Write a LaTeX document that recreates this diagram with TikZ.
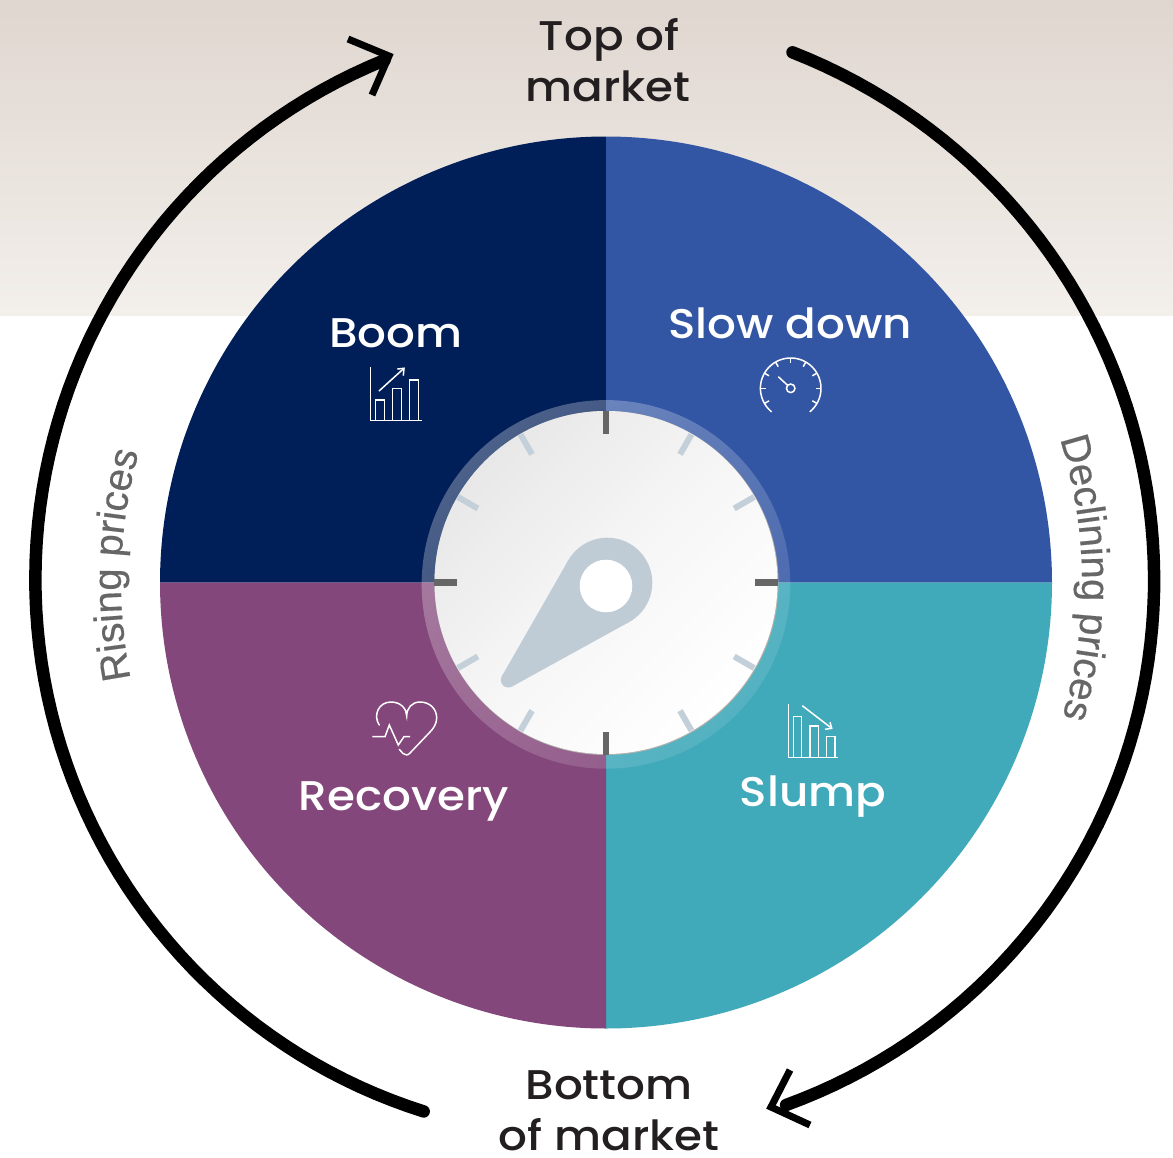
\documentclass[tikz,border=0pt]{standalone}
\usepackage{fontspec}
\setmainfont[FakeStretch=1.09]{Poppins Medium}
\newfontfamily\arcfont[FakeBold=0.4]{Liberation Sans}
\usetikzlibrary{decorations.text,fadings}
\definecolor{boomcol}{HTML}{001E58}
\definecolor{slowcol}{HTML}{3356A4}
\definecolor{reccol}{HTML}{84477B}
\definecolor{slumpcol}{HTML}{40A9BA}
\definecolor{inkcol}{HTML}{231F20}
\definecolor{arcgray}{HTML}{666666}
\definecolor{tickdark}{HTML}{666666}
\definecolor{ticklight}{HTML}{C3D0D9}
\definecolor{pointercol}{HTML}{BFCBD5}
\definecolor{papertop}{HTML}{DFD6CF}
\definecolor{paperbot}{HTML}{F3EFEB}
\definecolor{dialtop}{HTML}{E8E8E8}
\definecolor{dialmid}{HTML}{F6F6F6}
\definecolor{dialedge}{HTML}{B5B0AC}
\tikzfading[name=ringfade,top color=transparent!70,bottom color=transparent!90]
\tikzset{
  x=1pt,y=-1pt,
  sectorlabel/.style={text=white,anchor=base,inner sep=0pt,font=\fontsize{41.5}{48}\selectfont},
  marketlabel/.style={text=inkcol,anchor=base,inner sep=0pt,font=\fontsize{41.5}{48}\selectfont},
  icon/.style={draw=white,line width=1.5pt,line join=miter},
  bigarc/.style={line width=12.5pt,line cap=round,black},
  barb/.style={line width=7pt,line join=miter,line cap=butt,black},
  ticka/.style={line width=6.7pt,tickdark},
  tickb/.style={line width=6pt,ticklight},
}
\begin{document}
\begin{tikzpicture}
\useasboundingbox (0,0) rectangle (1173,1157);
\fill[white] (0,0) rectangle (1173,1157);
% paper band
\shade[top color=papertop,bottom color=paperbot] (0,0) rectangle (1173,315);
% sectors
\fill[boomcol] (606,582.5) -- plot[domain=180:270,samples=91] ({606+446*cos(\x)},{582.5+446*sin(\x)}) -- cycle;
\fill[slowcol] (606,582.5) -- plot[domain=270:360,samples=91] ({606+446*cos(\x)},{582.5+446*sin(\x)}) -- cycle;
\fill[slumpcol] (606,582.5) -- plot[domain=0:90,samples=91] ({606+446*cos(\x)},{582.5+446*sin(\x)}) -- cycle;
\fill[reccol] (606,582.5) -- plot[domain=90:180,samples=91] ({606+446*cos(\x)},{582.5+446*sin(\x)}) -- cycle;
% dial
\fill[white,path fading=ringfade,fading angle=45] (606,582.5) circle[radius=185pt];
\fill[dialedge] (606.5,583) circle[radius=172pt];
\shade[top color=dialtop,bottom color=white,middle color=dialmid,shading angle=45] (606,582.5) circle[radius=171.5pt];
% ticks
\foreach \a in {30,60,120,150,210,240,300,330}
  \draw[tickb] ({606+171*cos(\a)},{582.5+171*sin(\a)}) -- ({606+148*cos(\a)},{582.5+148*sin(\a)});
\foreach \a in {0,90,180,270}
  \draw[ticka] ({606+172*cos(\a)},{582.5+172*sin(\a)}) -- ({606+149*cos(\a)},{582.5+149*sin(\a)});
% pointer
\fill[pointercol] (607.3,582.7) circle[radius=45pt];
\fill[pointercol] (508.3,680) circle[radius=7.5pt];
\fill[pointercol] (568.3,560.3) -- (501.8,676.3) -- (511.9,686.6) -- (629,622.1) -- cycle;
\fill[white] (606,586) circle[radius=26.3pt];
% boom icon
\draw[icon] (370.7,367.3) -- (370.7,420.7) -- (421.5,420.7);
\draw[icon] (375.7,420.7) -- (375.7,400) -- (384.3,400) -- (384.3,420.7);
\draw[icon] (392.7,420.7) -- (392.7,388.7) -- (401.7,388.7) -- (401.7,420.7);
\draw[icon] (409.3,420.7) -- (409.3,380) -- (418.3,380) -- (418.3,420.7);
\draw[icon] (379,391) -- (404,368.3);
\draw[icon] (397.3,369) -- (404,368.3) -- (403.3,375.7);
% gauge icon
\draw[icon] plot[domain=129:411,samples=60] ({790.7+30.3*cos(\x)},{388.3+30.3*sin(\x)});
\foreach \a in {150,180,210,240,270,300,330,360,390}
  \draw[icon] ({790.7+30.3*cos(\a)},{388.3+30.3*sin(\a)}) -- ({790.7+25*cos(\a)},{388.3+25*sin(\a)});
\draw[icon] (790.7,388.3) circle[radius=4.3pt];
\draw[icon] (787.5,385.2) -- (778.3,376.7);
% heart icon
\draw[icon,line cap=round] (379.3,725) .. controls (373,716) and (378,702) .. (391,702) .. controls (401,702) and (406.7,709) .. (406.7,716) .. controls (406.7,708) and (412,702) .. (420,702) .. controls (430,702) and (436.7,709) .. (436.7,718) .. controls (436.7,724) and (433,729) .. (430,732) -- (410,753) .. controls (408,755.5) and (405,755.5) .. (403,753.5) -- (399.3,749.3);
\draw[icon] (372.3,736.7) -- (385,736.7) -- (389.3,725) -- (398.3,745) -- (404,736.7) -- (410,736.7);
% slump icon
\draw[icon] (788.3,704.3) -- (788.3,757.7) -- (838.3,757.7);
\draw[icon] (793.3,757.7) -- (793.3,716.7) -- (801.7,716.7) -- (801.7,757.7);
\draw[icon] (810,757.7) -- (810,726) -- (818.3,726) -- (818.3,757.7);
\draw[icon] (826.7,757.7) -- (826.7,736.7) -- (835,736.7) -- (835,757.7);
\draw[icon] (802.3,705.7) -- (831.7,728.3);
\draw[icon] (825,729.3) -- (831.7,728.3) -- (830,722.3);
% sector labels
\node[sectorlabel] (boom) at (396,347) {Boom};
\node[sectorlabel] (slow) at (790,338) {Slow down};
\node[sectorlabel] (recovery) at (404,810) {Recovery};
\node[sectorlabel] (slump) at (813,806) {Slump};
% market labels
\node[marketlabel] (top1) at (609,50) {Top of};
\node[marketlabel] (top2) at (608,101) {market};
\node[marketlabel] (bot1) at (609,1099) {Bottom};
\node[marketlabel] (bot2) at (609,1150) {of market};
% big arcs
\draw[bigarc] plot[domain=109:247,samples=80] ({606+(571-.0015*(\x-195)*(\x-195))*cos(\x)},{582+(571-.0015*(\x-195)*(\x-195))*sin(\x)});
\draw[bigarc] plot[domain=-70.6:71,samples=80] ({606+(548+(.0022-.0009*(\x>8))*(\x-8)*(\x-8))*cos(\x)},{582+(548+(.0022-.0009*(\x>8))*(\x-8)*(\x-8))*sin(\x)});
\draw[barb] (348,39) -- (389,56) -- (372,95);
\draw[barb] (790,1070) -- (771,1107) -- (810,1125);
% curved labels
\path[decorate,decoration={text along path,text align=center,text color=arcgray,text={|\arcfont\fontsize{40}{48}\selectfont|Rising prices}}]
  plot[domain=168:196,samples=60] ({606+485*cos(\x)},{582+485*sin(\x)});
\path[decorate,decoration={text along path,text align=center,text color=arcgray,text={|\arcfont\fontsize{40}{48}\selectfont|Declining prices}}]
  plot[domain=-18:17,samples=60] ({606+476*cos(\x)},{582+476*sin(\x)});
\end{tikzpicture}
\end{document}
